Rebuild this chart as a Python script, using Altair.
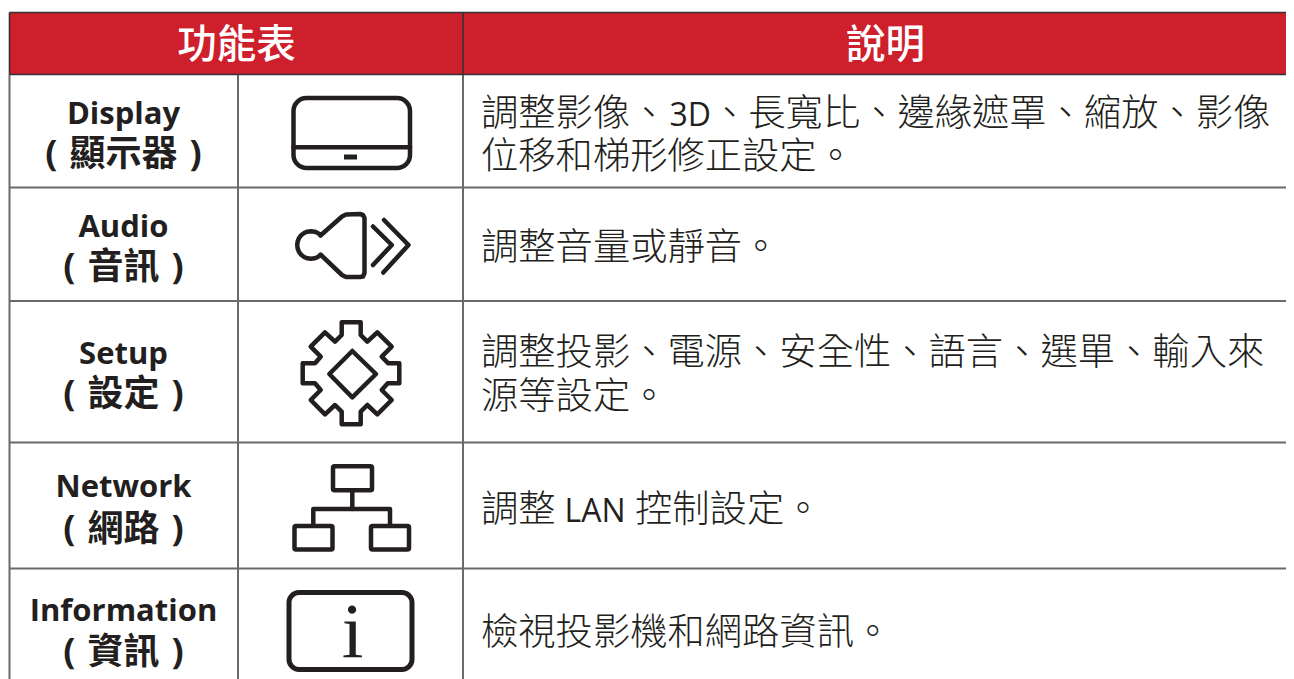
import altair as alt
import pandas as pd

INK = "#231f20"
RED = "#ce202c"
GRID = "#6a6a6a"
DARK = "#333333"
CJK = "Noto Sans CJK TC"
LATIN = "Open Sans, Noto Sans CJK TC"

# ---- table geometry
COLS = [9.5, 238, 463]
RIGHT = 1286
TOP = 12.5
HEAD_BOTTOM = 74.5
ROWS = [187.5, 301, 442.5, 568.5]
BOTTOM = 679

# ---- text
HEAD_TEXT = ["功能表", "說明"]
HEAD_X = [236.5, 885.5]
HEAD_Y = [58, 58]

NAMES = ["Display", "Audio", "Setup", "Network", "Information"]
NAME_Y = [123.5, 236.5, 363.5, 497, 620.5]
NAMES_ZH = ["(\u2004顯示器\u2004)", "(\u2004音訊\u2004)", "(\u2004設定\u2004)", "(\u2004網路\u2004)", "(\u2004資訊\u2004)"]
ZH_Y = [166, 279, 406, 541, 664]
NAME_X = 123.5

BODY_TEXT = ["調整影像、", "、長寬比、邊緣遮罩、縮放、影像", "位移和梯形修正設定。", "調整音量或靜音。",
             "調整投影、電源、安全性、語言、選單、輸入來", "源等設定。", "調整", "控制設定。", "檢視投影機和網路資訊。"]
BODY_X = [481, 711, 481, 481, 481, 481, 481, 635, 481]
BODY_Y = [126, 126, 169, 260, 365, 409, 522, 522, 644.5]
BODY_LATIN = ["3D", "LAN"]
LATIN_X = [669.5, 564.5]
LATIN_Y = [125.5, 521.5]

# ---- icon outlines: rectangles (x, x2, y, y2)
DISPLAY_RECT = [(293.5, 410, 98, 168)]
INFO_RECT = [(289, 412, 592.5, 669.5)]
NET_RECTS = [(333, 372, 466.3, 490.3), (294.5, 332.5, 526, 549.5), (371, 409, 526, 549.5)]
DASH_RECT = [(344, 357, 154.5, 159.5)]

# ---- icon polylines
DISPLAY_BAR = [(293.5, 147.3), (410, 147.3)]
AUDIO_BODY = [(320.5, 235.5), (342, 216.5), (346, 214.5), (360, 214), (363, 215), (364.5, 218), (364.5, 273),
              (363, 276.5), (360, 277), (346, 277), (342, 275), (320.5, 254.5), (317.9, 257), (314.6, 258.3),
              (311, 258.8), (307.4, 258.3), (304.1, 257), (301.2, 254.8), (299, 251.9), (297.7, 248.6),
              (297.2, 245), (297.7, 241.4), (299, 238.1), (301.2, 235.2), (304.1, 233), (307.4, 231.7),
              (311, 231.2), (314.6, 231.7), (317.9, 233), (320.5, 235.5)]
CHEVRON_A = [(373, 226.5), (391.8, 245), (373, 265)]
CHEVRON_B = [(384, 220), (408.5, 245), (383.3, 272.5)]
GEAR = [(341.7, 322.3), (360.7, 322.3), (360.7, 335), (367.3, 341.7), (377.3, 332.3), (391.7, 346.7), (381.7, 356.7),
        (388.3, 363.3), (399.3, 363.3), (399.3, 383.3), (387.7, 383.3), (381.7, 390), (391.7, 400), (377.3, 414.3),
        (367.3, 405), (360.7, 411.7), (360.7, 424.3), (341.7, 424.3), (341.7, 411.7), (335, 405), (325, 414.3),
        (310.7, 400), (320.7, 390), (315, 383.3), (302.7, 383.3), (302.7, 363.3), (315, 363.3), (320.7, 356.7),
        (310.7, 346.7), (325, 332.3), (335, 341.7), (341.7, 335), (341.7, 322.3)]
DIAMOND = [(352.3, 351), (376, 374), (352.3, 397.3), (329.3, 374), (352.3, 351)]
NET_STEM = [(352.3, 490.3), (352.3, 509)]
NET_BAR = [(313.3, 524), (313.3, 509), (390, 509), (390, 524)]
POLYLINES = {"bar": DISPLAY_BAR, "audio": AUDIO_BODY, "chevA": CHEVRON_A, "chevB": CHEVRON_B,
             "gear": GEAR, "diamond": DIAMOND, "stem": NET_STEM, "netbar": NET_BAR}

INFO_GLYPH = ["i"]
INFO_X = [352.5]
INFO_Y = [657]

X = alt.X("x:Q", scale=alt.Scale(domain=[8, 1286], nice=False, zero=False), axis=None)
Y = alt.Y("y:Q", scale=alt.Scale(domain=[679, 8], nice=False, zero=False), axis=None)


def texts(rows, font, size, color, weight="normal", align="left"):
    return alt.Chart(pd.DataFrame(rows, columns=["t", "x", "y"])).mark_text(
        font=font, fontSize=size, color=color, fontWeight=weight, align=align, baseline="alphabetic"
    ).encode(x=X, y=Y, text="t:N")


def rects(rows, **kw):
    return alt.Chart(pd.DataFrame(rows, columns=["x", "x2", "y", "y2"])).mark_rect(**kw).encode(
        x=X, x2="x2:Q", y=Y, y2="y2:Q")


def rules_h(ys, x0, x1, color, w):
    d = pd.DataFrame({"y": ys, "x": [x0] * len(ys), "x2": [x1] * len(ys)})
    return alt.Chart(d).mark_rule(color=color, strokeWidth=w).encode(x=X, x2="x2:Q", y=Y)


def rules_v(xs, y0, y1, color, w):
    d = pd.DataFrame({"x": xs, "y": [y0] * len(xs), "y2": [y1] * len(xs)})
    return alt.Chart(d).mark_rule(color=color, strokeWidth=w).encode(x=X, y=Y, y2="y2:Q")


poly_rows = [{"s": k, "i": i, "x": p[0], "y": p[1]} for k, pts in POLYLINES.items() for i, p in enumerate(pts)]
polys = alt.Chart(pd.DataFrame(poly_rows)).mark_line(
    color=INK, strokeWidth=4.5, strokeCap="round", strokeJoin="round"
).encode(x=X, y=Y, detail="s:N", order="i:Q")

head_bg = rects([(COLS[0], RIGHT, TOP, HEAD_BOTTOM)], color=RED)

layers = [
    head_bg,
    rules_h(ROWS, COLS[0], RIGHT, GRID, 2),
    rules_v([COLS[0], COLS[1]], HEAD_BOTTOM, BOTTOM, GRID, 2),
    rules_v([COLS[2]], HEAD_BOTTOM, BOTTOM, GRID, 2),
    rules_h([TOP, HEAD_BOTTOM], COLS[0], RIGHT, DARK, 1.6),
    rules_v([COLS[0], COLS[2]], TOP, HEAD_BOTTOM, DARK, 1.6),
    texts(list(zip(HEAD_TEXT, HEAD_X, HEAD_Y)), CJK, 39.5, "white", 500, "center"),
    texts([(t, NAME_X, y) for t, y in zip(NAMES, NAME_Y)], LATIN, 31, INK, "bold", "center"),
    texts([(t, NAME_X, y) for t, y in zip(NAMES_ZH, ZH_Y)], LATIN, 36, INK, "bold", "center"),
    texts(list(zip(BODY_TEXT, BODY_X, BODY_Y)), CJK, 37.3, INK, 300),
    texts(list(zip(BODY_LATIN, LATIN_X, LATIN_Y)), LATIN, 32, INK),
    rects(DISPLAY_RECT, fillOpacity=0, stroke=INK, strokeWidth=4.5, cornerRadius=13),
    rects(INFO_RECT, fillOpacity=0, stroke=INK, strokeWidth=5, cornerRadius=10),
    rects(NET_RECTS, fillOpacity=0, stroke=INK, strokeWidth=4.5, cornerRadius=1.5),
    rects(DASH_RECT, color=INK),
    polys,
    texts(list(zip(INFO_GLYPH, INFO_X, INFO_Y)), "Liberation Serif", 78, INK, "normal", "center"),
]

chart = alt.layer(*layers).properties(
    width=1278, height=671, padding=0, autosize=alt.AutoSizeParams(type="none")
).configure_view(stroke=None)

chart.save("out.html", embed_options={"renderer": "svg", "actions": False})
